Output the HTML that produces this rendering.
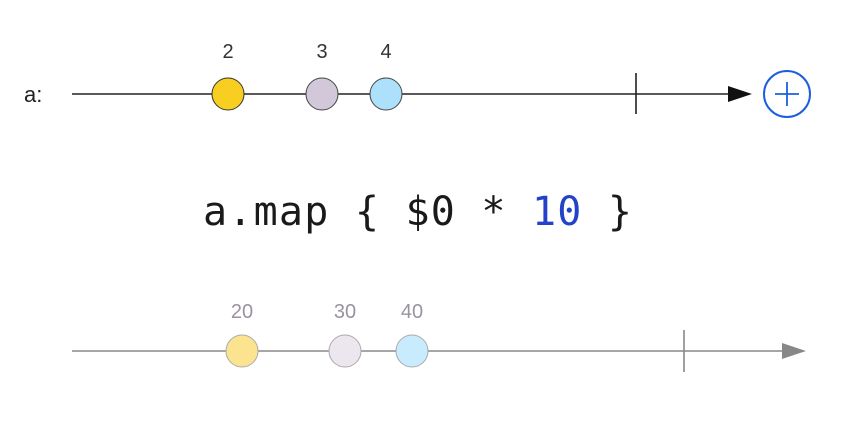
<!DOCTYPE html>
<html><head><style>body{margin:0;background:#fff}</style></head><body>
<svg width="846" height="430" xmlns="http://www.w3.org/2000/svg" style="display:block">
<rect width="846" height="430" fill="#fff"/>
<text x="24" y="102" font-family="Liberation Sans, sans-serif" font-size="22" fill="#222">a:</text>
<line x1="72" y1="94" x2="732" y2="94" stroke="#222" stroke-width="1.6"/>
<polygon points="728,86 752,94 728,102" fill="#111"/>
<line x1="636" y1="73" x2="636" y2="114" stroke="#222" stroke-width="1.6"/>
<circle cx="228" cy="94" r="16" fill="#f8cf21" stroke="#333" stroke-width="1"/>
<circle cx="322" cy="94" r="16" fill="#d2c8da" stroke="#444" stroke-width="1"/>
<circle cx="386" cy="94" r="16" fill="#ade0fb" stroke="#444" stroke-width="1"/>
<g font-family="Liberation Sans, sans-serif" font-size="20" fill="#333" text-anchor="middle">
<text x="228" y="58">2</text><text x="322" y="58">3</text><text x="386" y="58">4</text></g>
<circle cx="787" cy="94" r="23" fill="#fff" stroke="#1b5fe0" stroke-width="2"/>
<line x1="775" y1="94" x2="799" y2="94" stroke="#1b5fe0" stroke-width="1.8"/>
<line x1="787" y1="82" x2="787" y2="106" stroke="#1b5fe0" stroke-width="1.8"/>
<text x="203" y="225" font-family="DejaVu Sans Mono, monospace" font-size="40" fill="#1a1a1a" textLength="429">a.map { $0 * <tspan fill="#2342c9">10</tspan> }</text>
<line x1="72" y1="351" x2="786" y2="351" stroke="#888" stroke-width="1.6"/>
<polygon points="782,343 806,351 782,359" fill="#888"/>
<line x1="684" y1="330" x2="684" y2="372" stroke="#888" stroke-width="1.6"/>
<circle cx="242" cy="351" r="16" fill="#fbe38f" stroke="#aaa" stroke-width="1"/>
<circle cx="345" cy="351" r="16" fill="#ece6ee" stroke="#aaa" stroke-width="1"/>
<circle cx="412" cy="351" r="16" fill="#c8ebfd" stroke="#aaa" stroke-width="1"/>
<g font-family="Liberation Sans, sans-serif" font-size="20" fill="#9a92a0" text-anchor="middle">
<text x="242" y="318">20</text><text x="345" y="318">30</text><text x="412" y="318">40</text></g>
</svg>
</body></html>
